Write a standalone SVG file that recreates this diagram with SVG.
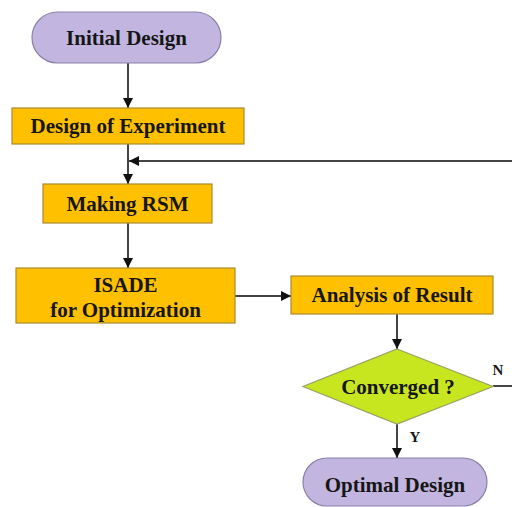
<svg xmlns="http://www.w3.org/2000/svg" width="512" height="507" viewBox="0 0 512 507">
  <defs>
    <marker id="arrow" viewBox="0 0 10 10" refX="10" refY="5" markerWidth="10" markerHeight="10" markerUnits="userSpaceOnUse" orient="auto">
      <path d="M0,0 L10,5 L0,10 z" fill="#111"/>
    </marker>
  </defs>
  <style>
    .term { fill: #c2b6e0; stroke: #8a80a8; stroke-width: 1.2; }
    .proc { fill: #ffc000; stroke: #a88a30; stroke-width: 1.2; }
    .dec { fill: #c8e620; stroke: #9aa060; stroke-width: 1.2; }
    text { font-family: "Liberation Serif", "Times New Roman", serif; font-weight: bold; font-size: 21px; fill: #161616; text-anchor: middle; }
    .lbl { font-size: 15px; }
    .conn { fill: none; stroke: #444; stroke-width: 2; }
  </style>

  <!-- flow connectors; the loop-back runs off the right edge -->
  <g id="connectors">
    <line class="conn" x1="128" y1="63" x2="128" y2="108" marker-end="url(#arrow)"/>
    <line class="conn" x1="128" y1="144" x2="128" y2="184" marker-end="url(#arrow)"/>
    <path class="conn" d="M493,386 H520 V161 H129" marker-end="url(#arrow)"/>
    <line class="conn" x1="128" y1="223" x2="128" y2="268" marker-end="url(#arrow)"/>
    <line class="conn" x1="235" y1="296" x2="291" y2="296" marker-end="url(#arrow)"/>
    <line class="conn" x1="397" y1="314" x2="397" y2="349" marker-end="url(#arrow)"/>
    <line class="conn" x1="397" y1="424" x2="397" y2="458" marker-end="url(#arrow)"/>
    <text class="lbl" x="498" y="375">N</text>
    <text class="lbl" x="415" y="442">Y</text>
  </g>

  <g id="initial-design">
    <rect class="term" x="32" y="12" width="189" height="51" rx="25.5"/>
    <text x="126.5" y="45">Initial Design</text>
  </g>

  <g id="design-of-experiment">
    <rect class="proc" x="12" y="108" width="232" height="36"/>
    <text x="128" y="133">Design of Experiment</text>
  </g>

  <g id="making-rsm">
    <rect class="proc" x="43" y="184" width="169" height="39"/>
    <text x="127.5" y="211">Making RSM</text>
  </g>

  <g id="isade">
    <rect class="proc" x="16" y="268" width="219" height="55"/>
    <text x="125.5" y="292">ISADE</text>
    <text x="125.5" y="317">for Optimization</text>
  </g>

  <g id="analysis-of-result">
    <rect class="proc" x="291" y="276" width="202" height="38"/>
    <text x="392" y="302">Analysis of Result</text>
  </g>

  <g id="converged">
    <polygon class="dec" points="397,349 493,386.5 397,424 303,386.5"/>
    <text x="398" y="394">Converged ?</text>
  </g>

  <g id="optimal-design">
    <rect class="term" x="303" y="458" width="184" height="48" rx="24"/>
    <text x="395" y="492">Optimal Design</text>
  </g>
</svg>
